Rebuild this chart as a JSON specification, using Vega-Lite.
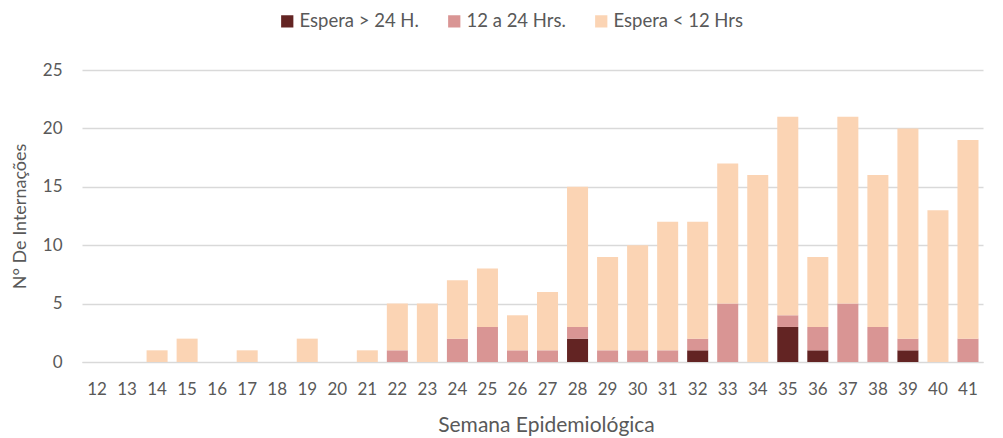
{
  "$schema": "https://vega.github.io/schema/vega-lite/v6.json",
  "width": 901,
  "height": 292,
  "autosize": {"type": "none"},
  "padding": {"left": 82, "top": 70, "right": 20, "bottom": 76},
  "background": "white",
  "config": {
    "font": "Lato",
    "view": {"stroke": null},
    "axis": {"labelColor": "#595959", "titleColor": "#595959", "titleFontWeight": "normal", "labelFont": "Lato", "titleFont": "Lato"},
    "legend": {"labelColor": "#595959", "labelFont": "Lato"}
  },
  "data": {
    "values": [
      {"semana": "12", "tipo": "Espera > 24 H.", "ord": 1, "valor": 0},
      {"semana": "13", "tipo": "Espera > 24 H.", "ord": 1, "valor": 0},
      {"semana": "14", "tipo": "Espera < 12 Hrs", "ord": 3, "valor": 1},
      {"semana": "15", "tipo": "Espera < 12 Hrs", "ord": 3, "valor": 2},
      {"semana": "16", "tipo": "Espera > 24 H.", "ord": 1, "valor": 0},
      {"semana": "17", "tipo": "Espera < 12 Hrs", "ord": 3, "valor": 1},
      {"semana": "18", "tipo": "Espera > 24 H.", "ord": 1, "valor": 0},
      {"semana": "19", "tipo": "Espera < 12 Hrs", "ord": 3, "valor": 2},
      {"semana": "20", "tipo": "Espera > 24 H.", "ord": 1, "valor": 0},
      {"semana": "21", "tipo": "Espera < 12 Hrs", "ord": 3, "valor": 1},
      {"semana": "22", "tipo": "12 a 24 Hrs.", "ord": 2, "valor": 1},
      {"semana": "22", "tipo": "Espera < 12 Hrs", "ord": 3, "valor": 4},
      {"semana": "23", "tipo": "Espera < 12 Hrs", "ord": 3, "valor": 5},
      {"semana": "24", "tipo": "12 a 24 Hrs.", "ord": 2, "valor": 2},
      {"semana": "24", "tipo": "Espera < 12 Hrs", "ord": 3, "valor": 5},
      {"semana": "25", "tipo": "12 a 24 Hrs.", "ord": 2, "valor": 3},
      {"semana": "25", "tipo": "Espera < 12 Hrs", "ord": 3, "valor": 5},
      {"semana": "26", "tipo": "12 a 24 Hrs.", "ord": 2, "valor": 1},
      {"semana": "26", "tipo": "Espera < 12 Hrs", "ord": 3, "valor": 3},
      {"semana": "27", "tipo": "12 a 24 Hrs.", "ord": 2, "valor": 1},
      {"semana": "27", "tipo": "Espera < 12 Hrs", "ord": 3, "valor": 5},
      {"semana": "28", "tipo": "Espera > 24 H.", "ord": 1, "valor": 2},
      {"semana": "28", "tipo": "12 a 24 Hrs.", "ord": 2, "valor": 1},
      {"semana": "28", "tipo": "Espera < 12 Hrs", "ord": 3, "valor": 12},
      {"semana": "29", "tipo": "12 a 24 Hrs.", "ord": 2, "valor": 1},
      {"semana": "29", "tipo": "Espera < 12 Hrs", "ord": 3, "valor": 8},
      {"semana": "30", "tipo": "12 a 24 Hrs.", "ord": 2, "valor": 1},
      {"semana": "30", "tipo": "Espera < 12 Hrs", "ord": 3, "valor": 9},
      {"semana": "31", "tipo": "12 a 24 Hrs.", "ord": 2, "valor": 1},
      {"semana": "31", "tipo": "Espera < 12 Hrs", "ord": 3, "valor": 11},
      {"semana": "32", "tipo": "Espera > 24 H.", "ord": 1, "valor": 1},
      {"semana": "32", "tipo": "12 a 24 Hrs.", "ord": 2, "valor": 1},
      {"semana": "32", "tipo": "Espera < 12 Hrs", "ord": 3, "valor": 10},
      {"semana": "33", "tipo": "12 a 24 Hrs.", "ord": 2, "valor": 5},
      {"semana": "33", "tipo": "Espera < 12 Hrs", "ord": 3, "valor": 12},
      {"semana": "34", "tipo": "Espera < 12 Hrs", "ord": 3, "valor": 16},
      {"semana": "35", "tipo": "Espera > 24 H.", "ord": 1, "valor": 3},
      {"semana": "35", "tipo": "12 a 24 Hrs.", "ord": 2, "valor": 1},
      {"semana": "35", "tipo": "Espera < 12 Hrs", "ord": 3, "valor": 17},
      {"semana": "36", "tipo": "Espera > 24 H.", "ord": 1, "valor": 1},
      {"semana": "36", "tipo": "12 a 24 Hrs.", "ord": 2, "valor": 2},
      {"semana": "36", "tipo": "Espera < 12 Hrs", "ord": 3, "valor": 6},
      {"semana": "37", "tipo": "12 a 24 Hrs.", "ord": 2, "valor": 5},
      {"semana": "37", "tipo": "Espera < 12 Hrs", "ord": 3, "valor": 16},
      {"semana": "38", "tipo": "12 a 24 Hrs.", "ord": 2, "valor": 3},
      {"semana": "38", "tipo": "Espera < 12 Hrs", "ord": 3, "valor": 13},
      {"semana": "39", "tipo": "Espera > 24 H.", "ord": 1, "valor": 1},
      {"semana": "39", "tipo": "12 a 24 Hrs.", "ord": 2, "valor": 1},
      {"semana": "39", "tipo": "Espera < 12 Hrs", "ord": 3, "valor": 18},
      {"semana": "40", "tipo": "Espera < 12 Hrs", "ord": 3, "valor": 13},
      {"semana": "41", "tipo": "12 a 24 Hrs.", "ord": 2, "valor": 2},
      {"semana": "41", "tipo": "Espera < 12 Hrs", "ord": 3, "valor": 17}
    ]
  },
  "mark": {"type": "bar"},
  "encoding": {
    "x": {
      "field": "semana",
      "type": "ordinal",
      "sort": null,
      "scale": {"paddingInner": 0.3, "paddingOuter": 0.15},
      "axis": {
        "title": "Semana Epidemiológica",
        "titleFontSize": 21,
        "titlePadding": 17,
        "titleX": 464,
        "labelFontSize": 17,
        "labelAngle": 0,
        "labelPadding": 19,
        "ticks": false,
        "domainColor": "#D9D9D9",
        "grid": false
      }
    },
    "y": {
      "field": "valor",
      "type": "quantitative",
      "stack": "zero",
      "scale": {"domain": [0, 25]},
      "axis": {
        "title": "N° De Internações",
        "titleFontSize": 18,
        "titlePadding": 13,
        "labelFontSize": 17,
        "labelPadding": 20,
        "values": [0, 5, 10, 15, 20, 25],
        "ticks": false,
        "domain": false,
        "gridColor": "#D9D9D9",
        "gridWidth": 1.5
      }
    },
    "color": {
      "field": "tipo",
      "type": "nominal",
      "scale": {
        "domain": ["Espera > 24 H.", "12 a 24 Hrs.", "Espera < 12 Hrs"],
        "range": ["#632423", "#D99594", "#FBD4B4"]
      },
      "legend": {
        "title": null,
        "orient": "none",
        "direction": "horizontal",
        "legendX": 196,
        "legendY": -58,
        "symbolType": "square",
        "symbolSize": 150,
        "labelFontSize": 18.5,
        "labelOffset": 3,
        "columnPadding": 26,
        "symbolStrokeWidth": 0
      }
    },
    "order": {"field": "ord", "type": "quantitative"}
  }
}
